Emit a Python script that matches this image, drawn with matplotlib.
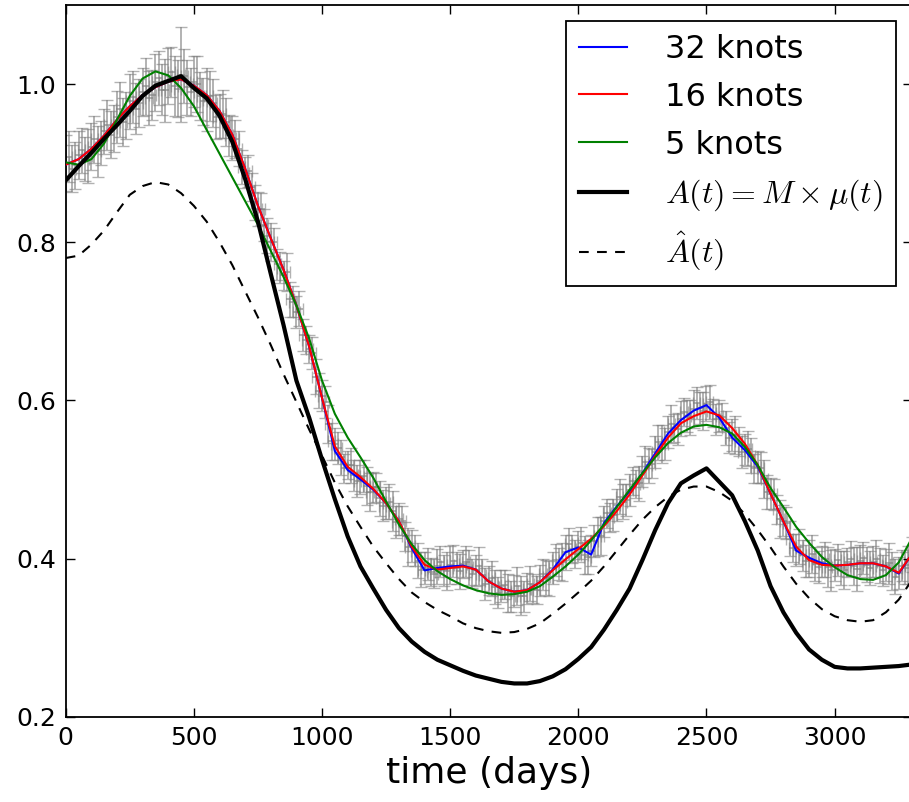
import matplotlib
matplotlib.use("Agg")
import matplotlib.pyplot as plt

plt.rcParams['font.family'] = ['DejaVu Sans']
plt.rcParams['mathtext.fontset'] = 'cm'
plt.rcParams['lines.scale_dashes'] = False

# spline fits, sampled every 50 days
t_fit = list(range(0, 3301, 50))
knots32 = [0.898, 0.905, 0.918, 0.935, 0.955, 0.972, 0.986, 0.996, 1.003, 1.006,
           0.998, 0.986, 0.966, 0.936, 0.893, 0.846, 0.805, 0.765, 0.720, 0.668,
           0.603, 0.536, 0.512, 0.500, 0.487, 0.470, 0.447, 0.413, 0.385, 0.388,
           0.390, 0.391, 0.386, 0.371, 0.362, 0.358, 0.360, 0.370, 0.386, 0.408,
           0.414, 0.405, 0.445, 0.466, 0.485, 0.508, 0.533, 0.558, 0.575, 0.587,
           0.594, 0.578, 0.553, 0.537, 0.516, 0.482, 0.447, 0.410, 0.401, 0.394,
           0.391, 0.392, 0.394, 0.394, 0.390, 0.381, 0.405]
knots16 = [0.898, 0.905, 0.918, 0.935, 0.955, 0.972, 0.986, 0.996, 1.003, 1.006,
           0.998, 0.986, 0.966, 0.936, 0.893, 0.846, 0.805, 0.765, 0.720, 0.668,
           0.603, 0.542, 0.516, 0.503, 0.488, 0.470, 0.447, 0.415, 0.392, 0.386,
           0.388, 0.390, 0.386, 0.371, 0.362, 0.358, 0.360, 0.370, 0.385, 0.399,
           0.412, 0.425, 0.441, 0.460, 0.481, 0.505, 0.530, 0.553, 0.571, 0.580,
           0.586, 0.581, 0.565, 0.545, 0.518, 0.482, 0.447, 0.415, 0.398, 0.392,
           0.391, 0.392, 0.394, 0.394, 0.390, 0.382, 0.405]
knots5 = [0.901, 0.898, 0.905, 0.925, 0.955, 0.985, 1.007, 1.016, 1.011, 0.995,
          0.972, 0.942, 0.912, 0.882, 0.852, 0.822, 0.789, 0.756, 0.720, 0.678,
          0.625, 0.583, 0.553, 0.528, 0.502, 0.472, 0.443, 0.418, 0.398, 0.384,
          0.374, 0.366, 0.360, 0.356, 0.354, 0.355, 0.358, 0.365, 0.377, 0.390,
          0.405, 0.423, 0.443, 0.465, 0.487, 0.508, 0.528, 0.546, 0.559, 0.567,
          0.569, 0.566, 0.558, 0.541, 0.518, 0.489, 0.465, 0.440, 0.420, 0.402,
          0.389, 0.379, 0.374, 0.373, 0.379, 0.395, 0.425]
A_true = [0.878, 0.896, 0.913, 0.931, 0.948, 0.966, 0.985, 0.998, 1.004, 1.010,
          0.995, 0.982, 0.960, 0.927, 0.880, 0.826, 0.760, 0.695, 0.625, 0.578,
          0.525, 0.475, 0.428, 0.390, 0.362, 0.335, 0.312, 0.295, 0.282, 0.272,
          0.265, 0.258, 0.252, 0.248, 0.244, 0.242, 0.242, 0.245, 0.251, 0.260,
          0.273, 0.288, 0.310, 0.335, 0.362, 0.398, 0.436, 0.470, 0.495, 0.505,
          0.514, 0.497, 0.480, 0.447, 0.410, 0.365, 0.332, 0.306, 0.285, 0.272,
          0.263, 0.261, 0.261, 0.262, 0.263, 0.264, 0.266]
A_hat = [0.780, 0.783, 0.797, 0.815, 0.838, 0.860, 0.871, 0.876, 0.873, 0.862,
         0.846, 0.826, 0.800, 0.771, 0.738, 0.705, 0.670, 0.633, 0.598, 0.563,
         0.530, 0.496, 0.466, 0.440, 0.415, 0.394, 0.374, 0.357, 0.345, 0.335,
         0.327, 0.318, 0.312, 0.308, 0.306, 0.307, 0.311, 0.318, 0.330, 0.343,
         0.357, 0.372, 0.390, 0.410, 0.430, 0.449, 0.465, 0.478, 0.487, 0.491,
         0.491, 0.484, 0.473, 0.456, 0.436, 0.414, 0.390, 0.368, 0.350, 0.336,
         0.327, 0.322, 0.320, 0.322, 0.332, 0.348, 0.372]

# observations (two interleaved runs)
t_obs = list(range(0, 3301, 25))
obs = [0.900, 0.893, 0.910, 0.905, 0.921, 0.915, 0.940, 0.936, 0.958, 0.952,
       0.978, 0.969, 0.990, 0.982, 1.002, 0.993, 1.010, 0.998, 1.012, 0.996,
       1.003, 0.985, 0.980, 0.976, 0.960, 0.952, 0.932, 0.918, 0.888, 0.870,
       0.842, 0.822, 0.800, 0.772, 0.758, 0.728, 0.712, 0.683, 0.665, 0.630,
       0.606, 0.570, 0.545, 0.528, 0.518, 0.505, 0.503, 0.492, 0.490, 0.476,
       0.470, 0.460, 0.450, 0.428, 0.416, 0.397, 0.388, 0.383, 0.390, 0.385,
       0.392, 0.388, 0.393, 0.389, 0.385, 0.379, 0.372, 0.364, 0.365, 0.356,
       0.359, 0.353, 0.362, 0.362, 0.372, 0.376, 0.388, 0.393, 0.408, 0.412,
       0.415, 0.405, 0.410, 0.428, 0.447, 0.452, 0.468, 0.472, 0.487, 0.494,
       0.510, 0.518, 0.535, 0.545, 0.560, 0.565, 0.577, 0.580, 0.589, 0.590,
       0.596, 0.584, 0.580, 0.565, 0.556, 0.548, 0.538, 0.530, 0.516, 0.500,
       0.482, 0.462, 0.448, 0.425, 0.411, 0.404, 0.400, 0.393, 0.396, 0.389,
       0.392, 0.388, 0.395, 0.390, 0.397, 0.392, 0.396, 0.391, 0.392, 0.384,
       0.382, 0.388, 0.405]
obs_err = [0.035, 0.030, 0.030, 0.028, 0.030, 0.032, 0.028, 0.030, 0.033, 0.030,
           0.035, 0.032, 0.030, 0.034, 0.036, 0.032, 0.035, 0.038, 0.060, 0.035,
           0.032, 0.030, 0.040, 0.030, 0.028, 0.030, 0.028,
           0.022, 0.020, 0.018, 0.022, 0.020, 0.024, 0.020, 0.018, 0.022, 0.020,
           0.020, 0.018, 0.022, 0.020, 0.024, 0.020, 0.022, 0.018, 0.020, 0.022,
           0.024, 0.020, 0.022, 0.020, 0.025, 0.020, 0.018, 0.020, 0.022, 0.020,
           0.018, 0.022, 0.020, 0.024, 0.020, 0.018, 0.022, 0.020, 0.020, 0.018,
           0.022, 0.020, 0.024, 0.020, 0.025, 0.020, 0.018, 0.020, 0.022, 0.020,
           0.020, 0.022, 0.018, 0.020, 0.024, 0.020, 0.025, 0.020, 0.018, 0.020,
           0.022, 0.020, 0.018, 0.020, 0.022, 0.020, 0.024, 0.020, 0.018, 0.022,
           0.020, 0.024, 0.020, 0.022, 0.018, 0.020, 0.022, 0.020, 0.018, 0.020,
           0.022, 0.020, 0.024, 0.020, 0.018, 0.020, 0.022, 0.020, 0.020, 0.024,
           0.022, 0.020, 0.025, 0.020, 0.022, 0.018, 0.024, 0.020, 0.022, 0.020,
           0.022, 0.020, 0.024, 0.020, 0.020, 0.022]

t_obs2 = list(range(12, 3300, 25))
obs2 = [0.908, 0.897, 0.916, 0.909, 0.930, 0.925, 0.948, 0.944, 0.968, 0.960,
        0.984, 0.976, 0.997, 0.986, 1.008, 0.992, 1.015, 0.994, 1.010, 0.990,
        1.000, 0.978, 0.985, 0.958, 0.962, 0.935, 0.930, 0.895, 0.890, 0.850,
        0.842, 0.808, 0.800, 0.768, 0.762, 0.725, 0.716, 0.676, 0.660, 0.612,
        0.598, 0.548, 0.540, 0.514, 0.518, 0.498, 0.504, 0.484, 0.490, 0.467,
        0.472, 0.446, 0.448, 0.415, 0.410, 0.386, 0.393, 0.381, 0.396, 0.384,
        0.397, 0.384, 0.396, 0.381, 0.390, 0.368, 0.375, 0.357, 0.367, 0.352,
        0.365, 0.352, 0.368, 0.360, 0.380, 0.375, 0.398, 0.396, 0.418, 0.406,
        0.420, 0.402, 0.422, 0.428, 0.457, 0.455, 0.478, 0.474, 0.498, 0.495,
        0.522, 0.520, 0.547, 0.545, 0.570, 0.564, 0.585, 0.578, 0.597, 0.586,
        0.598, 0.576, 0.579, 0.553, 0.556, 0.535, 0.539, 0.514, 0.515, 0.484,
        0.481, 0.450, 0.445, 0.413, 0.415, 0.397, 0.406, 0.389, 0.399, 0.385,
        0.398, 0.386, 0.400, 0.387, 0.401, 0.388, 0.400, 0.385, 0.394, 0.377,
        0.391, 0.392]
obs2_err = [0.032, 0.030, 0.028, 0.034, 0.030, 0.028, 0.032, 0.030, 0.035, 0.030,
            0.033, 0.030, 0.036, 0.032, 0.034, 0.040, 0.032, 0.036, 0.034, 0.030,
            0.035, 0.030, 0.032, 0.028, 0.030, 0.026, 0.024, 0.022, 0.020, 0.022,
            0.020, 0.022, 0.018, 0.020, 0.024, 0.020, 0.022, 0.018, 0.020, 0.022,
            0.020, 0.024, 0.020, 0.018, 0.022, 0.020, 0.020, 0.024, 0.018, 0.020,
            0.022, 0.020, 0.018, 0.024, 0.020, 0.022, 0.020, 0.018, 0.020, 0.024,
            0.020, 0.022, 0.020, 0.018, 0.024, 0.020, 0.022, 0.020, 0.018, 0.020,
            0.024, 0.020, 0.022, 0.018, 0.020, 0.022, 0.020, 0.024, 0.020, 0.018,
            0.020, 0.022, 0.020, 0.024, 0.018, 0.020, 0.022, 0.020, 0.018, 0.022,
            0.020, 0.018, 0.022, 0.020, 0.024, 0.020, 0.018, 0.022, 0.020, 0.024,
            0.022, 0.020, 0.018, 0.020, 0.024, 0.020, 0.022, 0.018, 0.020, 0.022,
            0.020, 0.024, 0.020, 0.018, 0.022, 0.020, 0.024, 0.020, 0.022, 0.026,
            0.020, 0.024, 0.022, 0.028, 0.020, 0.022, 0.024, 0.020, 0.026, 0.022,
            0.020, 0.024]

fig = plt.figure(figsize=(9.09, 8.02), dpi=100)
ax = fig.add_axes([0.0723, 0.1064, 0.9305, 0.8874])

for tt, yy, ee in [(t_obs, obs, obs_err), (t_obs2, obs2, obs2_err)]:
    ax.errorbar(tt, yy, yerr=ee, xerr=14, fmt='none', ecolor='gray',
                alpha=0.6, elinewidth=1.4, capsize=4.5, zorder=1)
ax.plot(t_fit, knots32, color='blue', lw=1.5, label='32 knots', zorder=3)
ax.plot(t_fit, knots16, color='red', lw=1.5, label='16 knots', zorder=4)
ax.plot(t_fit, knots5, color='green', lw=1.5, label='5 knots', zorder=5)
ax.plot(t_fit, A_true, color='black', lw=3, label=r'$A(t) = M \times \mu(t)$', zorder=6)
ax.plot(t_fit, A_hat, color='black', lw=1.5, dashes=(7, 6), label=r'$\hat{A}(t)$', zorder=6)

ax.set_xlim(0, 3300)
ax.set_ylim(0.2, 1.1)
ax.set_xticks([0, 500, 1000, 1500, 2000, 2500, 3000])
ax.set_yticks([0.2, 0.4, 0.6, 0.8, 1.0])
ax.tick_params(direction='in', top=True, right=True, length=6.5, width=1.0,
               labelsize=18, pad=7)
for s in ax.spines.values():
    s.set_linewidth(1.3)
ax.set_xlabel('time (days)', fontsize=26, labelpad=4)

leg = ax.legend(loc='upper right', fontsize=23, fancybox=False, framealpha=1,
                edgecolor='black', handlelength=1.5, handletextpad=1.2,
                borderpad=0.4, labelspacing=0.53)
leg.get_frame().set_linewidth(1.3)

fig.savefig('out.png', dpi=100)
